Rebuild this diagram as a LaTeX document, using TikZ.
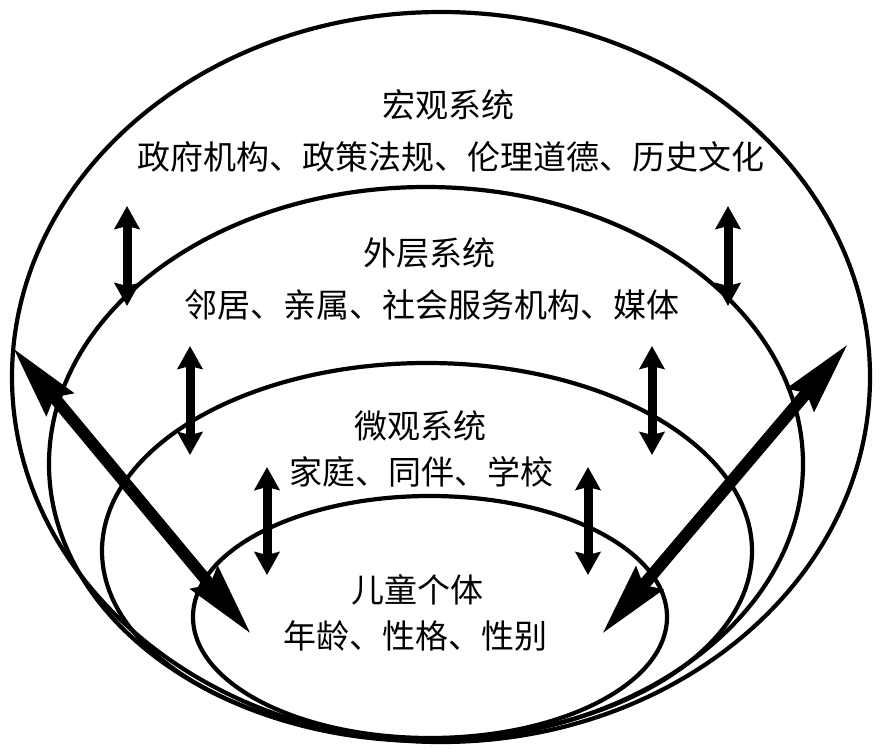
\documentclass[tikz,border=0pt]{standalone}
\usepackage{fontspec}
\newfontfamily\cjk{Noto Sans CJK SC}
\usetikzlibrary{arrows.meta}
\tikzset{
  layer/.style={line width=4.2pt},
  hint/.style={line width=9pt, {Stealth[length=23pt,width=25pt,inset=3pt]}-{Stealth[length=23pt,width=25pt,inset=3pt]}},
  spoke/.style={line width=12pt, {Stealth[length=72pt,width=34pt,inset=8pt]}-{Stealth[length=72pt,width=34pt,inset=8pt]}},
  caption/.style={inner sep=0pt, font=\cjk\fontsize{33}{36}\selectfont}
}
\begin{document}
\begin{tikzpicture}[x=1pt,y=-1pt]
  \useasboundingbox (0,0) rectangle (885,751);
  \fill[white] (0,0) rectangle (885,751);
  % layers
  \draw[layer] (441,377) ellipse [x radius=429, y radius=365]; %macro
  \draw[layer] (426,464) ellipse [x radius=377, y radius=277]; %exo
  \draw[layer] (427,551) ellipse [x radius=325, y radius=188]; %micro
  \draw[layer] (430,617) ellipse [x radius=237, y radius=121]; %child
  % texts
  \node[caption] (macro) at (448,105) {宏观系统};
  \node[caption] (macrolist) at (451,157) {政府机构、政策法规、伦理道德、历史文化};
  \node[caption] (exo) at (429,253) {外层系统};
  \node[caption] (exolist) at (432,305) {邻居、亲属、社会服务机构、媒体};
  \node[caption] (micro) at (420,426) {微观系统};
  \node[caption] (microlist) at (421,472) {家庭、同伴、学校};
  \node[caption] (child) at (417,590) {儿童个体};
  \node[caption] (childlist) at (415,636) {年龄、性格、性别};
  % arrows between layers
  \coordinate (a1) at (127,206); \coordinate (b1) at (127,306);
  \coordinate (a2) at (728,206); \coordinate (b2) at (728,306);
  \coordinate (a3) at (190,346); \coordinate (b3) at (190,455);
  \coordinate (a4) at (652,346); \coordinate (b4) at (652,455);
  \coordinate (a5) at (267,467); \coordinate (b5) at (267,575);
  \coordinate (a6) at (588,467); \coordinate (b6) at (588,575);
  \draw[hint] (a1) -- (b1);
  \draw[hint] (a2) -- (b2);
  \draw[hint] (a3) -- (b3);
  \draw[hint] (a4) -- (b4);
  \draw[hint] (a5) -- (b5);
  \draw[hint] (a6) -- (b6);
  % long arrows
  \coordinate (l1) at (13,348); \coordinate (l2) at (251,634);
  \coordinate (r1) at (602,634); \coordinate (r2) at (848,344);
  \draw[spoke] (l1) -- (l2);
  \draw[spoke] (r1) -- (r2);
\end{tikzpicture}
\end{document}
